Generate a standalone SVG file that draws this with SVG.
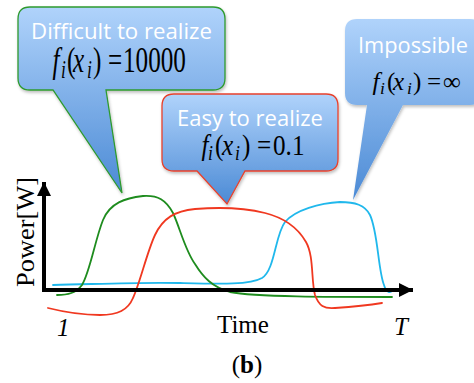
<svg xmlns="http://www.w3.org/2000/svg" width="474" height="383" viewBox="0 0 474 383">
<style>
.lbl{font-family:"Open Sans","Liberation Sans",sans-serif;fill:#ffffff;font-size:21px;text-anchor:middle}
.math{font-family:"Liberation Serif","Times New Roman",serif;fill:#000000}
.it{font-style:italic}
.axis{font-family:"Liberation Serif","Times New Roman",serif;fill:#000000;font-size:25px}
.curve{fill:none;stroke-width:1.8;stroke-linecap:round;stroke-linejoin:round}
</style>
<defs>
<linearGradient id="blue" x1="0" y1="0" x2="0" y2="1">
<stop offset="0" stop-color="#b0d3fb"/>
<stop offset="1" stop-color="#4b8ad5"/>
</linearGradient>
<filter id="sh" x="-10%" y="-10%" width="130%" height="130%">
<feDropShadow dx="1" dy="2" stdDeviation="1.5" flood-color="#000" flood-opacity="0.25"/>
</filter>
<marker id="ah" viewBox="0 0 10 10" refX="10" refY="5" markerWidth="3.6" markerHeight="3.8" orient="auto" markerUnits="strokeWidth">
<path d="M0,0 L10,5 L0,10 Z" fill="#000"/>
</marker>
</defs>

<g id="curves">
<path class="curve" stroke="#20b8ec" d="M53,285 C100,284 140,282 180,283 C220,284 250,285 262,278 C275,270 275,235 285,222 C295,210 320,203 340,202 C355,202 365,205 370,215 C378,232 378,270 384,285 C386,292 390,294 393,290"/>
<path class="curve" stroke="#1e8c1e" d="M57,295 C68,295 76,293 82,285 C90,272 95,240 103,220 C110,203 125,198 143,196 C158,195 166,200 173,213 C180,228 185,250 195,264 C203,277 212,287 230,292 C255,297 330,297 392,297"/>
<path class="curve" stroke="#f03820" d="M48,308 C60,311 80,315 100,315 C118,315 128,310 133,298 C140,283 147,252 155,235 C163,218 175,211 195,209 C220,207 245,208 265,213 C285,218 298,228 306,242 C314,256 311,280 315,295 C319,306 324,309 335,308 C350,307 370,305 382,303"/>
</g>

<g id="axes">
<line x1="44" y1="292" x2="44" y2="182" stroke="#000" stroke-width="4" marker-end="url(#ah)"/>
<line x1="42" y1="290" x2="413" y2="290" stroke="#000" stroke-width="4" marker-end="url(#ah)"/>
<text class="axis" transform="translate(34,232) rotate(-90)" text-anchor="middle" textLength="110" lengthAdjust="spacingAndGlyphs">Power[W]</text>
<text class="axis" x="217" y="333">Time</text>
<text class="axis it" x="57" y="336" font-size="23">1</text>
<text class="axis it" x="394" y="335" font-size="23">T</text>
<text class="axis" x="247" y="373" text-anchor="middle" font-size="23">(<tspan font-weight="bold">b</tspan>)</text>
</g>

<g id="callout-difficult">
<path filter="url(#sh)" fill="url(#blue)" stroke="#2e9a2e" stroke-width="1.3" d="M30,7 H213 Q225,7 225,19 V78 Q225,90 213,90 H106 L122,193 L53,90 H30 Q18,90 18,78 V19 Q18,7 30,7 Z"/>
<text class="lbl" x="121.5" y="39" textLength="181" lengthAdjust="spacingAndGlyphs">Difficult to realize</text>
<text class="math" transform="scale(0.7,1)" font-size="36"><tspan class="it" x="75" y="72">f</tspan><tspan class="it" x="87.1" y="78" font-size="25">i</tspan><tspan x="95.7" y="72">(</tspan><tspan class="it" x="104.3" y="72">x</tspan><tspan class="it" x="124.3" y="78" font-size="25">i</tspan><tspan x="132.9" y="72">)</tspan><tspan x="154.3" y="72">=</tspan><tspan x="175.7" y="72">10000</tspan></text>
</g>

<g id="callout-easy">
<path filter="url(#sh)" fill="url(#blue)" stroke="#e8412c" stroke-width="1.3" d="M174,94 H326 Q338,94 338,106 V159 Q338,171 326,171 H245 L227,204 L197,171 H174 Q162,171 162,159 V106 Q162,94 174,94 Z"/>
<text class="lbl" x="250" y="126" textLength="146" lengthAdjust="spacingAndGlyphs">Easy to realize</text>
<text class="math" transform="scale(0.84,1)" font-size="30"><tspan class="it" x="239.9" y="155.5">f</tspan><tspan class="it" x="247.6" y="160.5" font-size="21">i</tspan><tspan x="256" y="155.5">(</tspan><tspan class="it" x="264.3" y="155.5">x</tspan><tspan class="it" x="279.8" y="160.5" font-size="21">i</tspan><tspan x="288.1" y="155.5">)</tspan><tspan x="306" y="155.5">=</tspan><tspan x="325" y="155.5">0.1</tspan></text>
</g>

<g id="callout-impossible">
<path filter="url(#sh)" fill="url(#blue)" d="M357,19 H470 Q482,19 482,31 V93 Q482,105 470,105 H403 L353,200 L367,105 H357 Q345,105 345,93 V31 Q345,19 357,19 Z"/>
<text class="lbl" x="413" y="53" textLength="110" lengthAdjust="spacingAndGlyphs">Impossible</text>
<text class="math" font-size="25"><tspan class="it" x="372.5" y="89.5">f</tspan><tspan class="it" x="380" y="93.5" font-size="17.5">i</tspan><tspan x="387" y="89.5">(</tspan><tspan class="it" x="393" y="89.5">x</tspan><tspan class="it" x="407" y="93.5" font-size="17.5">i</tspan><tspan x="413" y="89.5">)</tspan><tspan x="427" y="89.5">=</tspan><tspan x="443" y="89.5">∞</tspan></text>
</g>
</svg>
